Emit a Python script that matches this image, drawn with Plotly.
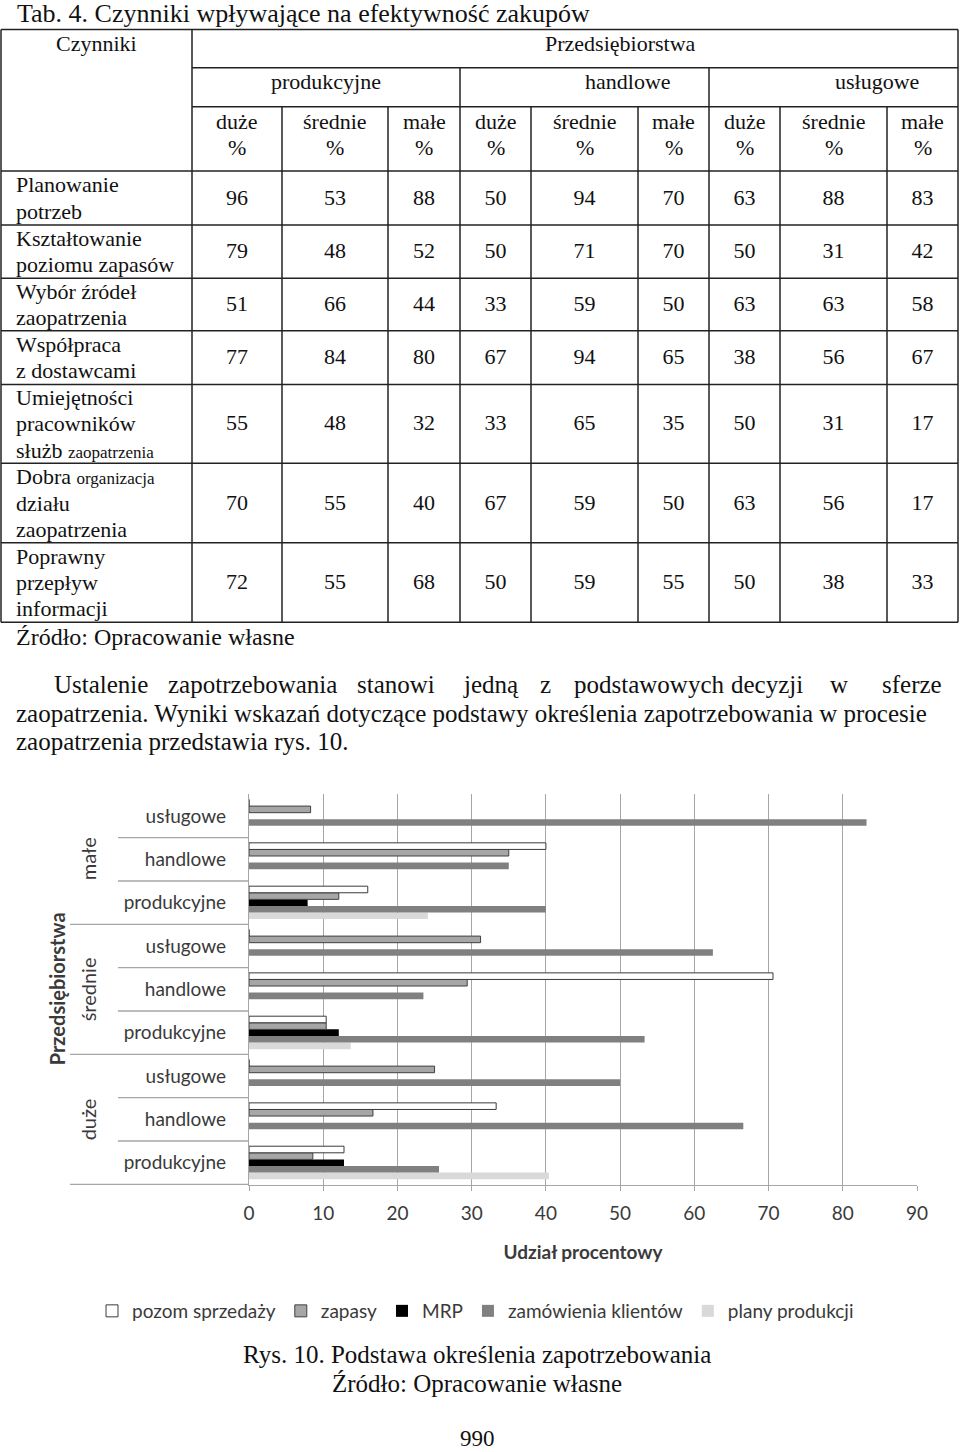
import plotly.graph_objects as go

W, H = 960, 1452

# ================= DATA =================
# --- Tab. 4 ---
table_title = "Tab. 4. Czynniki wpływające na efektywność zakupów"
table_head_left = "Czynniki"
table_head_top = "Przedsiębiorstwa"
sector_names = ["produkcyjne", "handlowe", "usługowe"]
size_names = ["duże", "średnie", "małe"]
factor_lines = [
    ["Planowanie", "potrzeb"],
    ["Kształtowanie", "poziomu zapasów"],
    ["Wybór źródeł", "zaopatrzenia"],
    ["Współpraca", "z dostawcami"],
    ["Umiejętności", "pracowników", "służb <span style='font-size:17px'>zaopatrzenia</span>"],
    ["Dobra <span style='font-size:17px'>organizacja</span>", "działu", "zaopatrzenia"],
    ["Poprawny", "przepływ", "informacji"],
]
prod_duze = [96, 79, 51, 77, 55, 70, 72]
prod_srednie = [53, 48, 66, 84, 48, 55, 55]
prod_male = [88, 52, 44, 80, 32, 40, 68]
hand_duze = [50, 50, 33, 67, 33, 67, 50]
hand_srednie = [94, 71, 59, 94, 65, 59, 59]
hand_male = [70, 70, 50, 65, 35, 50, 55]
usl_duze = [63, 50, 63, 38, 50, 63, 50]
usl_srednie = [88, 31, 63, 56, 31, 56, 38]
usl_male = [83, 42, 58, 67, 17, 17, 33]
table_columns = [prod_duze, prod_srednie, prod_male,
                 hand_duze, hand_srednie, hand_male,
                 usl_duze, usl_srednie, usl_male]
source_text = "Źródło: Opracowanie własne"

# --- paragraph ---
para_line1_words = ["Ustalenie", "zapotrzebowania", "stanowi", "jedną", "z",
                    "podstawowych", "decyzji", "w", "sferze"]
para_line2 = "zaopatrzenia. Wyniki wskazań dotyczące podstawy określenia zapotrzebowania w procesie"
para_line3 = "zaopatrzenia przedstawia rys. 10."

# --- Rys. 10 chart ---
groups = ["duże", "duże", "duże", "średnie", "średnie", "średnie", "małe", "małe", "małe"]
subs = ["produkcyjne", "handlowe", "usługowe"] * 3
group_order = ["duże", "średnie", "małe"]
series_names = ["pozom sprzedaży", "zapasy", "MRP", "zamówienia klientów", "plany produkcji"]
pozom_sprzedazy = [12.8, 33.3, 0, 10.4, 70.6, 0, 16.0, 40.0, 0]
zapasy = [8.6, 16.7, 25.0, 10.4, 29.4, 31.2, 12.1, 35.0, 8.3]
mrp = [12.8, 0, 0, 12.1, 0, 0, 7.9, 0, 0]
zamowienia_klientow = [25.6, 66.6, 50.0, 53.3, 23.5, 62.5, 40.0, 35.0, 83.2]
plany_produkcji = [40.4, 0, 0, 13.7, 0, 0, 24.1, 0, 0]
x_ticks = [0, 10, 20, 30, 40, 50, 60, 70, 80, 90]
x_title = "Udział procentowy"
y_title = "Przedsiębiorstwa"
fig_caption = "Rys. 10. Podstawa określenia zapotrzebowania"
fig_source = "Źródło: Opracowanie własne"
page_number = "990"

# ================= LAYOUT / STYLE =================
SERIF = "Liberation Serif, Times New Roman, serif"
SANS = "Lato, Open Sans, sans-serif"
TXT = "#111111"
CH_TXT = "#3a3a3a"

col_edges = [1, 192, 282, 388, 460, 531, 638, 709, 780, 887, 958]
row_edges = [29.5, 67.7, 106.7, 171, 225, 278.3, 330.7, 384.5, 463.3, 542.7, 622.3]
LINE = dict(color="#222222", width=1.5)

fig = go.Figure()

# ---- bar chart (series added bottom-to-top within each category) ----
cat_keys = [f"{g}|{s}" for g, s in zip(groups, subs)]
series_vals = [pozom_sprzedazy, zapasy, mrp, zamowienia_klientow, plany_produkcji]
series_style = [
    dict(color="#ffffff", line=dict(color="#3a3a3a", width=1)),
    dict(color="#a6a6a6", line=dict(color="#404040", width=1)),
    dict(color="#000000", line=dict(color="#000000", width=0)),
    dict(color="#808080", line=dict(color="#808080", width=0)),
    dict(color="#d9d9d9", line=dict(color="#d9d9d9", width=0)),
]
for name, vals, st in reversed(list(zip(series_names, series_vals, series_style))):
    fig.add_trace(go.Bar(y=cat_keys, x=vals, name=name, orientation="h",
                         marker=st, xaxis="x", yaxis="y"))

# ---- table values via pixel-space axes ----
tx, ty, tt = [], [], []
for ci, col in enumerate(table_columns):
    xc = (col_edges[ci + 1] + col_edges[ci + 2]) / 2
    for ri, v in enumerate(col):
        yc = (row_edges[ri + 3] + row_edges[ri + 4]) / 2
        tx.append(xc); ty.append(yc + 1); tt.append(str(v))
fig.add_trace(go.Scatter(x=tx, y=ty, text=tt, mode="text", xaxis="x2", yaxis="y2",
                         textfont=dict(family=SERIF, size=22, color=TXT),
                         showlegend=False, hoverinfo="skip"))

shapes = []
def hline(x0, x1, y):
    shapes.append(dict(type="line", xref="x2", yref="y2", x0=x0, x1=x1, y0=y, y1=y, line=LINE))
def vline(x, y0, y1):
    shapes.append(dict(type="line", xref="x2", yref="y2", x0=x, x1=x, y0=y0, y1=y1, line=LINE))

top, bot = row_edges[0], row_edges[-1]
hline(col_edges[0], col_edges[-1], top)
hline(col_edges[0], col_edges[-1], bot)
vline(col_edges[0], top, bot)
vline(col_edges[-1], top, bot)
vline(col_edges[1], top, bot)
hline(col_edges[1], col_edges[-1], row_edges[1])
hline(col_edges[1], col_edges[-1], row_edges[2])
for r in row_edges[3:-1]:
    hline(col_edges[0], col_edges[-1], r)
for k, c in enumerate(col_edges[2:-1]):
    if k in (2, 5):
        vline(c, row_edges[1], bot)
    else:
        vline(c, row_edges[2], bot)

ann = []
def text(x, y, s, size=22, anchor="center", family=SERIF, color=TXT, **kw):
    ann.append(dict(x=x, y=y, xref="x2", yref="y2", text=s, showarrow=False,
                    xanchor=anchor, yanchor="middle",
                    font=dict(family=family, size=size, color=color), **kw))

text(15, 13, table_title, size=26, anchor="left")
text(96, 43, table_head_left)
text(620, 43, table_head_top)
for name, xc in zip(sector_names, [326, 628, 877]):
    text(xc, 81, name)
for ci in range(9):
    xc = (col_edges[ci + 1] + col_edges[ci + 2]) / 2
    text(xc, 121, size_names[ci % 3])
    text(xc, 147, "%")
for ri, lines in enumerate(factor_lines):
    yc = (row_edges[ri + 3] + row_edges[ri + 4]) / 2
    n = len(lines)
    for k, ln in enumerate(lines):
        text(14, yc + (k - (n - 1) / 2) * 26.3, ln, anchor="left")
text(14, 637, source_text, size=24, anchor="left")

# paragraph (first line justified)
word_x = [52, 166, 355, 461, 538, 572, 729, 828, 880]
for wx, wd in zip(word_x, para_line1_words):
    text(wx, 684, wd, size=25, anchor="left")
text(14, 713, para_line2, size=25, anchor="left")
text(14, 741, para_line3, size=25, anchor="left")

# captions
text(477, 1354, fig_caption, size=25)
text(477, 1383, fig_source, size=25)
text(477, 1438, page_number, size=23)

# ---- chart category dividers and group labels ----
x_axis_px = 249
for i in range(len(cat_keys)):
    y = i - 0.5
    is_group = (i % 3 == 0)
    shapes.append(dict(type="line", xref="paper", yref="y",
                       x0=(70 if is_group else 118) / W, x1=x_axis_px / W,
                       y0=y, y1=y, line=dict(color="#a6a6a6", width=1.3)))
for gi, g in enumerate(group_order):
    ann.append(dict(x=88 / W, y=gi * 3 + 1, xref="paper", yref="y", text=g,
                    showarrow=False, textangle=-90, xanchor="center", yanchor="middle",
                    font=dict(family=SANS, size=20, color=CH_TXT)))
ann.append(dict(x=57 / W, y=4, xref="paper", yref="y", text=f"<b>{y_title}</b>",
                showarrow=False, textangle=-90, xanchor="center", yanchor="middle",
                font=dict(family=SANS, size=20, color=CH_TXT)))

plot_top, plot_bot = 794.3, 1185
fig.update_layout(
    width=W, height=H,
    margin=dict(l=0, r=0, t=0, b=0),
    paper_bgcolor="white", plot_bgcolor="rgba(0,0,0,0)",
    barmode="group", bargap=0.24, bargroupgap=0,
    showlegend=True,
    legend=dict(orientation="h", x=92 / W, xanchor="left", y=(H - 1311) / H, yanchor="middle",
                traceorder="reversed", font=dict(family=SANS, size=19, color=CH_TXT),
                itemwidth=30, bgcolor="rgba(0,0,0,0)"),
    xaxis=dict(domain=[x_axis_px / W, 917 / W], range=[0, 90], tickvals=x_ticks,
               showgrid=True, gridcolor="#a6a6a6", gridwidth=1,
               showline=True, linecolor="#a6a6a6", linewidth=1.3,
               ticks="outside", ticklen=5, tickcolor="#a6a6a6", ticklabelstandoff=6,
               tickfont=dict(family=SANS, size=19, color=CH_TXT),
               title=dict(text=f"<b>{x_title}</b>", standoff=22,
                          font=dict(family=SANS, size=19, color=CH_TXT)),
               zeroline=False, automargin=False, anchor="y", fixedrange=True),
    yaxis=dict(domain=[(H - plot_bot) / H, (H - plot_top) / H], type="category",
               categoryorder="array", categoryarray=cat_keys,
               tickvals=cat_keys, ticktext=subs,
               showgrid=False, showline=True, linecolor="#a6a6a6", linewidth=1.3,
               ticks="", ticklabelstandoff=18,
               tickfont=dict(family=SANS, size=19, color=CH_TXT),
               automargin=False, anchor="x", fixedrange=True),
    xaxis2=dict(domain=[0, 1], range=[0, W], visible=False, anchor="y2", fixedrange=True),
    yaxis2=dict(domain=[0, 1], range=[H, 0], visible=False, anchor="x2", fixedrange=True),
    shapes=shapes,
    annotations=ann,
)

fig.write_html("out.html")
